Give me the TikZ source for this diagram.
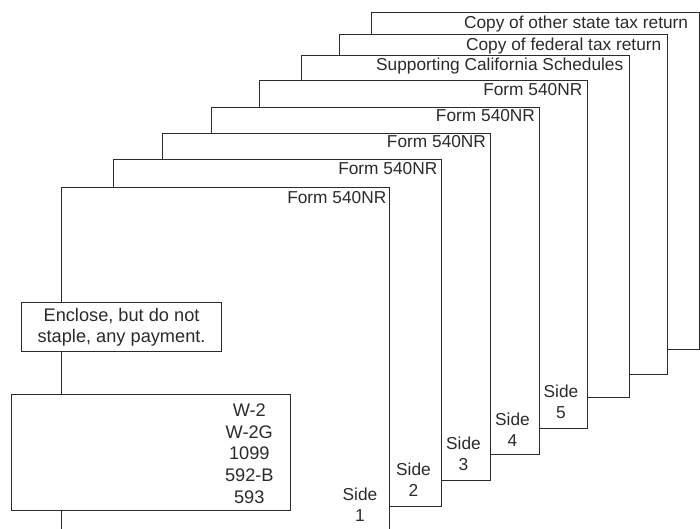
\documentclass[tikz,border=0pt]{standalone}
\usepackage{fontspec}
\setmainfont{Liberation Sans}
\definecolor{ink}{HTML}{2B2B2B}
\tikzset{
  sheet/.style={draw=ink, line width=1.1pt, fill=white, anchor=north west, inner sep=0pt, minimum width=328pt},
  box/.style={draw=ink, line width=1.1pt, fill=white, anchor=north west, inner sep=0pt},
  lbl/.style={text=ink, inner sep=0pt, anchor=base east, font=\fontsize{17.3}{21}\selectfont},
  side/.style={text=ink, inner sep=0pt, anchor=south, align=center, font=\fontsize{17.3}{21}\selectfont},
  encl/.style={text=ink, inner sep=0pt, align=center, font=\fontsize{18.2}{21.6}\selectfont}
}
\begin{document}
\begin{tikzpicture}[x=1pt,y=-1pt]
\useasboundingbox (0,0) rectangle (700,529);
\clip (0,0) rectangle (700,529);
% sheets, back to front
\node[sheet, minimum height=337pt] (s8) at (370.5,12.3) {};
\node[sheet, minimum height=340pt, minimum width=327.7pt] (s7) at (339.3,34.3) {};
\node[sheet, minimum height=342pt] (s6) at (300.5,55) {};
\node[sheet, minimum height=347.3pt] (s5) at (259.2,80.2) {};
\node[sheet, minimum height=347.3pt] (s4) at (211.2,106.7) {};
\node[sheet, minimum height=347pt] (s3) at (162,132.7) {};
\node[sheet, minimum height=347pt] (s2) at (112.8,158.7) {};
\node[sheet, minimum height=360pt] (s1) at (61,186.7) {};
% sheet titles
\node[lbl] (t8) at (688.3,28.5) {Copy of other state tax return};
\node[lbl] (t7) at (661.5,50.2) {Copy of federal tax return};
\node[lbl] (t6) at (623.5,70.5) {Supporting California Schedules};
\node[lbl] (t5) at (582.5,95.5) {Form 540NR};
\node[lbl] (t4) at (535.2,122) {Form 540NR};
\node[lbl] (t3) at (486.2,148) {Form 540NR};
\node[lbl] (t2) at (437.5,175) {Form 540NR};
\node[lbl] (t1) at (386.5,204) {Form 540NR};
% side labels
\node[side] (d1) at (360,521.5) {Side\\1};
\node[side] (d2) at (413.5,497) {Side\\2};
\node[side] (d3) at (463.5,471) {Side\\3};
\node[side] (d4) at (512.5,446.5) {Side\\4};
\node[side] (d5) at (561,418.7) {Side\\5};
% enclosure boxes
\node[box, minimum width=200pt, minimum height=49.3pt, encl] (pay) at (21,302) {Enclose, but do not\\staple, any payment.};
\node[box, minimum width=278.7pt, minimum height=115.5pt] (forms) at (11.3,394) {};
\node[encl, anchor=south] (flist) at (249.3,503.5) {W-2\\W-2G\\1099\\592-B\\593};
\end{tikzpicture}
\end{document}
